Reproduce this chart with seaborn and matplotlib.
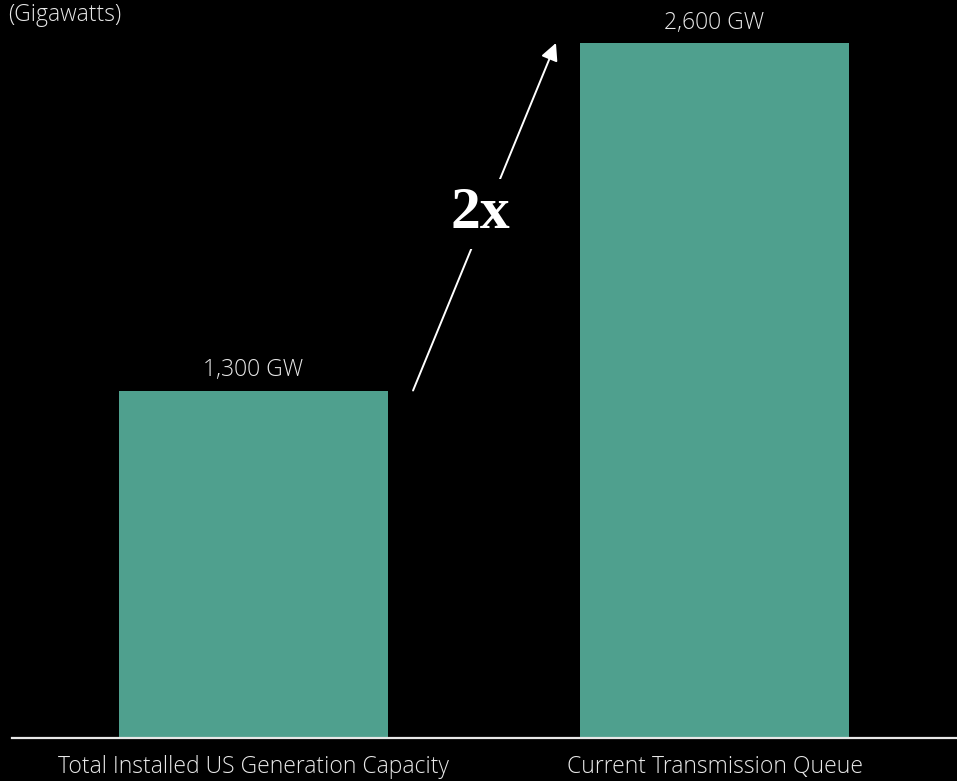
import matplotlib
matplotlib.use("Agg")
import matplotlib.pyplot as plt
import seaborn as sns
import pandas as pd

categories = ["Total Installed US Generation Capacity", "Current Transmission Queue"]
values_gw = [1300, 2600]
value_labels = ["1,300 GW", "2,600 GW"]
unit_label = "(Gigawatts)"
ratio_label = "2x"

BG = "#000000"
BAR = "#4fa08e"
TEXT = "#e8e8e8"

sns.set_theme(style="white")
plt.rcParams["font.family"] = ["Open Sans", "DejaVu Sans"]

W, H = 957, 781
fig = plt.figure(figsize=(W / 100, H / 100), dpi=100, facecolor=BG)
ax = fig.add_axes([12 / W, (H - 738) / H, (W - 12) / W, 738 / H])
ax.set_facecolor(BG)

df = pd.DataFrame({"category": categories, "gw": values_gw})
sns.barplot(data=df, x="category", y="gw", color=BAR, saturation=1,
            width=0.583, linewidth=0, edgecolor="none", ax=ax)

ymax = values_gw[1] * 738 / 695
ax.set_ylim(0, ymax)
ax.set_xlim(-0.524, 1.526)

for s in ["top", "right", "left"]:
    ax.spines[s].set_visible(False)
ax.spines["bottom"].set_color(TEXT)
ax.spines["bottom"].set_linewidth(1.6)
ax.set_yticks([])
ax.set_xlabel("")
ax.set_ylabel("")
ax.tick_params(axis="x", length=0, pad=12, labelsize=16.5, labelcolor=TEXT)
for lbl in ax.get_xticklabels():
    lbl.set_fontweight("light")

for i, (v, t) in enumerate(zip(values_gw, value_labels)):
    ax.text(i, v + ymax * 0.011, t, ha="center", va="bottom",
            fontsize=16.5, color=TEXT, fontweight="light")

fig.text(8 / W, 1 - 3 / H, unit_label, ha="left", va="top",
         fontsize=16.5, color=TEXT, fontweight="light")

# growth arrow between the two bars
ax.annotate("", xy=(0.656, values_gw[1]), xytext=(0.346, values_gw[0]),
            arrowprops=dict(arrowstyle="-|>", color="white", lw=1.4,
                            mutation_scale=26, shrinkA=0, shrinkB=0))
ax.text(0.491, 1960, ratio_label, ha="center", va="center",
        fontsize=43, fontweight="bold", color="white",
        family=["Liberation Serif", "DejaVu Serif"],
        bbox=dict(facecolor=BG, edgecolor="none", pad=6))

fig.savefig("out.png", dpi=100, facecolor=BG)
